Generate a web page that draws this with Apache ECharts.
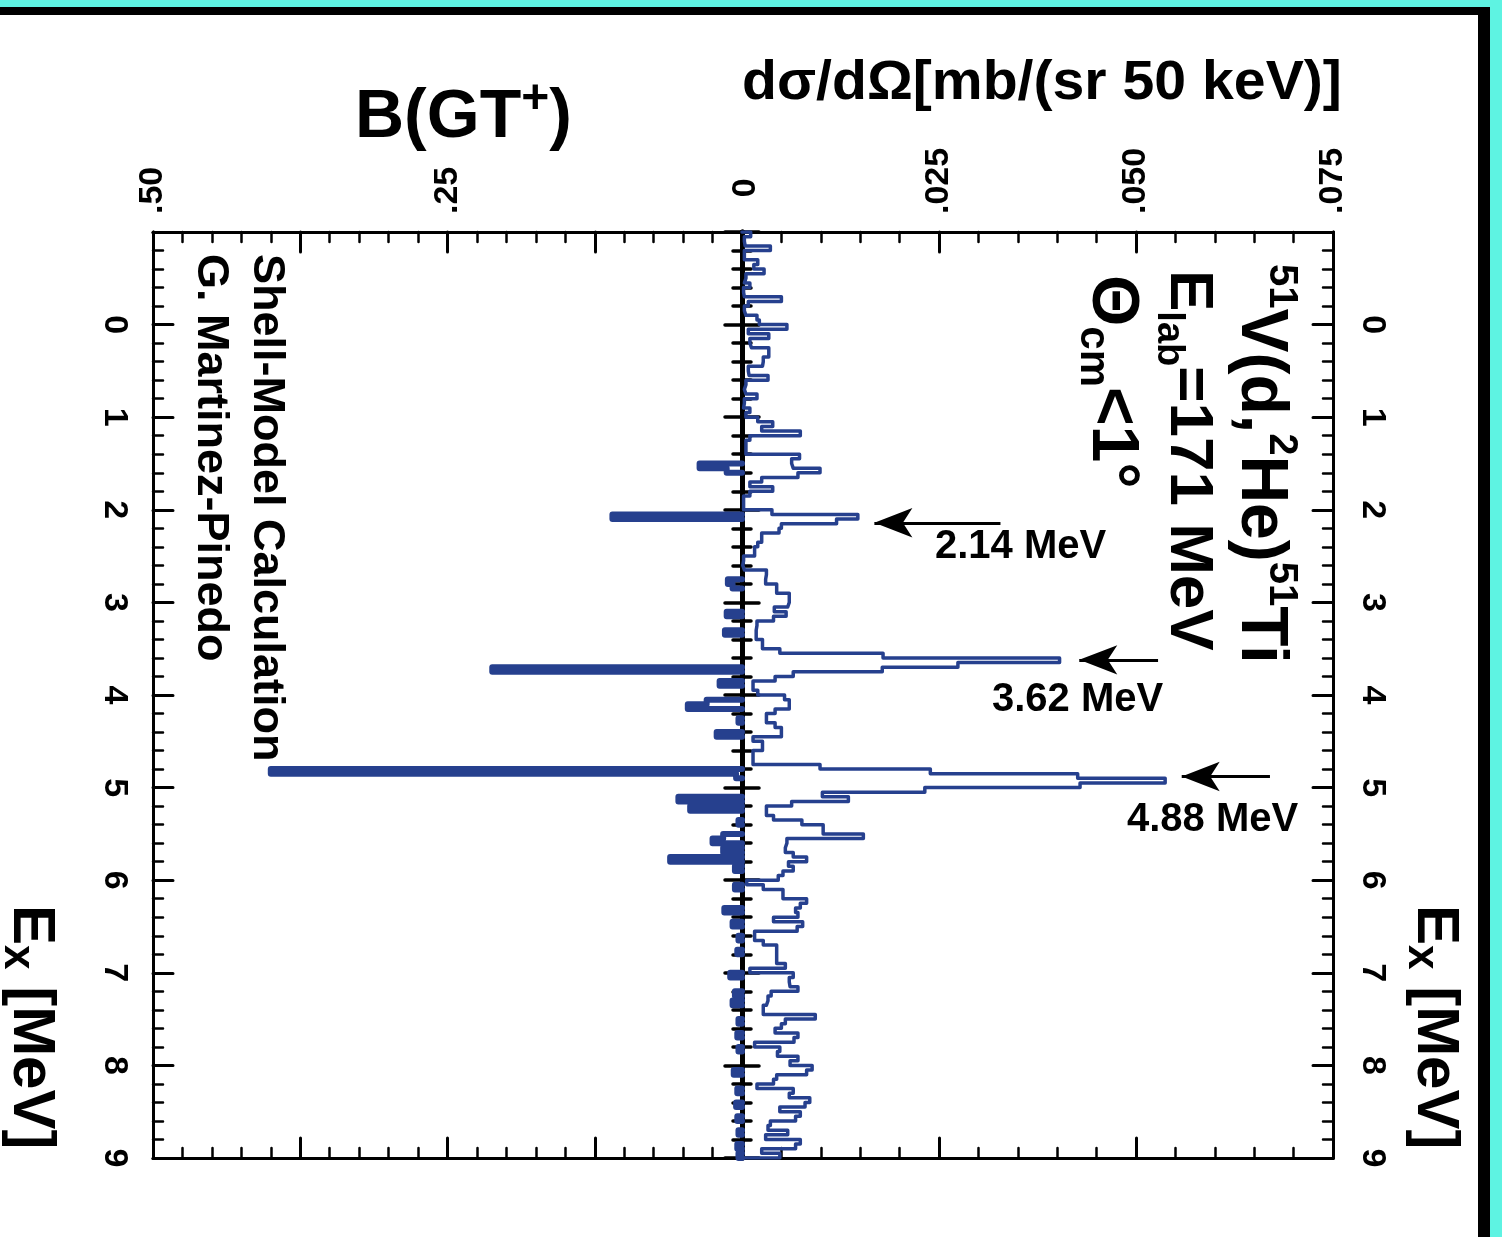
<!DOCTYPE html>
<html><head><meta charset="utf-8">
<script src="https://cdn.jsdelivr.net/npm/echarts@6/dist/echarts.min.js"></script>
<style>html,body{margin:0;padding:0;background:#fff}#c{width:1502px;height:1237px}</style>
</head><body><div id="c"></div>
<script>
// ---- data ----
const binStart = -1.0;   // MeV, lower edge of first 50 keV bin
const binWidth = 0.05;   // MeV
// dσ/dΩ [mb/(sr 50 keV)] per 50 keV bin, Ex from -1.0 to 9.0 MeV
const crossSection = [
 0.0011,0.0003,0.0004,0.0036,0.0003,0.0003,0.0020,0.0015,0.0028,0.0005,0.0003,0.0010,0.0002,0.0003,0.0050,0.0008,0.0003,0.0005,0.0019,0.0022,
 0.0057,0.0008,0.0034,0.0010,0.0012,0.0034,0.0034,0.0027,0.0026,0.0008,0.0009,0.0033,0.0005,0.0003,0.0005,0.0019,0.0003,0.0002,0.0010,0.0005,
 0.0020,0.0039,0.0025,0.0074,0.0010,0.0005,0.0005,0.0005,0.0073,0.0063,0.0065,0.0099,0.0071,0.0025,0.0010,0.0039,0.0010,0.0002,0.0002,0.0002,
 0.0038,0.0147,0.0120,0.0050,0.0047,0.0025,0.0025,0.0020,0.0016,0.0016,0.0002,0.0001,0.0003,0.0031,0.0030,0.0030,0.0044,0.0044,0.0060,0.0060,
 0.0058,0.0041,0.0056,0.0040,0.0019,0.0018,0.0018,0.0018,0.0026,0.0026,0.0048,0.0179,0.0403,0.0274,0.0178,0.0065,0.0042,0.0014,0.0014,0.0020,
 0.0054,0.0060,0.0060,0.0042,0.0031,0.0031,0.0042,0.0050,0.0050,0.0014,0.0026,0.0026,0.0014,0.0014,0.0014,0.0099,0.0239,0.0426,0.0537,0.0429,
 0.0232,0.0102,0.0135,0.0063,0.0031,0.0031,0.0040,0.0076,0.0103,0.0103,0.0154,0.0057,0.0055,0.0055,0.0065,0.0082,0.0059,0.0065,0.0052,0.0046,
 0.0006,0.0027,0.0052,0.0052,0.0082,0.0074,0.0068,0.0071,0.0040,0.0077,0.0070,0.0016,0.0016,0.0027,0.0044,0.0044,0.0044,0.0044,0.0055,0.0010,
 0.0065,0.0060,0.0061,0.0071,0.0037,0.0033,0.0031,0.0027,0.0027,0.0093,0.0055,0.0050,0.0042,0.0071,0.0066,0.0016,0.0048,0.0045,0.0071,0.0061,
 0.0089,0.0082,0.0044,0.0040,0.0019,0.0065,0.0060,0.0086,0.0080,0.0048,0.0074,0.0068,0.0036,0.0033,0.0058,0.0030,0.0074,0.0068,0.0025,0.0048
];
// Shell-model B(GT+) strengths: bin lower edge (MeV) and value
const bgtEnergies = [1.50,1.55,2.05,2.75,2.80,3.10,3.30,3.70,3.85,4.05,4.10,4.25,4.40,4.80,4.85,5.10,5.20,5.35,5.50,5.55,5.65,5.75,5.85,6.05,6.30,6.45,6.60,6.75,7.00,7.20,7.30,7.50,7.65,7.80,8.05,8.25,8.40,8.55,8.70,8.85,8.95];
const bgtValues   = [0.036,0.013,0.110,0.012,0.008,0.013,0.0145,0.212,0.019,0.030,0.046,0.003,0.0215,0.400,0.005,0.054,0.044,0.003,0.016,0.025,0.016,0.061,0.006,0.006,0.015,0.008,0.003,0.004,0.010,0.006,0.008,0.003,0.004,0.003,0.007,0.004,0.005,0.004,0.003,0.004,0.003];
// tick labels
const bgtTickLabels = [[0.25,'.25'],[0.5,'.50']];
const zeroLabel = '0';
const xsTickLabels  = [[0.025,'.025'],[0.05,'.050'],[0.075,'.075']];
const exTickLabels  = ['0','1','2','3','4','5','6','7','8','9'];
// peak annotations (Ex, arrow tip / tail in mb/sr)
const peakEx    = [2.14, 3.62, 4.88];
const peakNames = ['2.14 MeV','3.62 MeV','4.88 MeV'];
const arrowTip  = [0.0168, 0.0428, 0.0558];
const arrowTail = [0.0328, 0.0528, 0.0670];

// ---- build histogram paths ----
const nBins = crossSection.length;
const edges = [];
for (let i = 0; i <= nBins; i++) edges.push(+(binStart + i * binWidth).toFixed(4));
const xsData = [[0, edges[0]]];
crossSection.forEach((v, i) => { xsData.push([v, edges[i]], [v, edges[i + 1]]); });
xsData.push([0, edges[nBins]]);

const bgtBins = new Array(nBins).fill(0);
bgtEnergies.forEach((e, j) => { bgtBins[Math.round((e - binStart) / binWidth)] = bgtValues[j]; });
const bgtData = [];
let i = 0;
while (i < nBins) {
  if (bgtBins[i] > 0) {
    bgtData.push([0, edges[i]]);
    while (i < nBins && bgtBins[i] > 0) { bgtData.push([bgtBins[i], edges[i]], [bgtBins[i], edges[i + 1]]); i++; }
    bgtData.push([0, edges[i]]);
    bgtData.push(['-', '-']);
  } else i++;
}

// ---- styling ----
const FONT = '"Liberation Sans", Arial, Helvetica, sans-serif';
const BLUE = '#26408e';
function lookup(list, v) { for (const [t, s] of list) if (Math.abs(t - v) < 1e-9) return s; return ''; }
function frame(opts) {
  return Object.assign({
    type: 'value',
    axisLine: { show: true, onZero: false, lineStyle: { color: '#000', width: 3 } },
    axisTick: { show: true, inside: true, length: 20, lineStyle: { color: '#000', width: 3, cap: 'round' } },
    minorTick: { show: true, splitNumber: 5, length: 10, lineStyle: { color: '#000', width: 2.5, cap: 'round' } },
    splitLine: { show: false }, minorSplitLine: { show: false },
    axisLabel: { show: false }
  }, opts);
}
const tickLabel = (fmt, margin) => ({
  show: true, rotate: -90, margin: margin, fontSize: 34, fontWeight: 'bold', fontFamily: FONT, color: '#000', formatter: fmt
});
const exFmt = v => (v >= 0 && Number.isInteger(v) ? exTickLabels[v] : '');
const exAxis = { min: -1, max: 9, interval: 1, inverse: true };

const chart = echarts.init(document.getElementById('c'), null, { renderer: 'canvas' });

const rot = -Math.PI / 2;
const rtext = (x, y, text, rich, size, align) => ({
  type: 'text', x: x, y: y, rotation: rot, z: 100,
  style: { text: text, rich: rich, fill: '#000', font: 'bold ' + size + 'px ' + FONT,
           align: align || 'left', verticalAlign: 'middle', textAlign: align || 'left', textVerticalAlign: 'middle' }
});
const htext = (x, y, text, rich, size, sx) => ({
  type: 'text', x: x, y: y, z: 100, scaleX: sx || 1,
  style: { text: text, rich: rich, fill: '#000', font: 'bold ' + size + 'px ' + FONT,
           align: 'left', verticalAlign: 'middle', textAlign: 'left', textVerticalAlign: 'middle' }
});
const R = (size, va, extra) => Object.assign({ fontSize: size, fontWeight: 'bold', fontFamily: FONT, color: '#000', verticalAlign: va || 'middle', lineHeight: size }, extra || {});

const option = {
  animation: false,
  backgroundColor: '#fff',
  grid: [
    { left: 153, top: 232, width: 589, height: 926, containLabel: false, outerBoundsMode: 'none' },
    { left: 742, top: 232, width: 591, height: 926, containLabel: false, outerBoundsMode: 'none' }
  ],
  xAxis: [
    frame({ gridIndex: 0, min: 0, max: 0.5, interval: 0.125, inverse: true, position: 'top',
            axisLabel: tickLabel(v => lookup(bgtTickLabels, v), 18) }),
    frame({ gridIndex: 0, min: 0, max: 0.5, interval: 0.125, inverse: true, position: 'bottom' }),
    frame({ gridIndex: 1, min: 0, max: 0.075, interval: 0.025, position: 'top',
            axisLabel: tickLabel(v => lookup(xsTickLabels, v), 18) }),
    frame({ gridIndex: 1, min: 0, max: 0.075, interval: 0.025, position: 'bottom' })
  ],
  yAxis: [
    frame(Object.assign({ gridIndex: 0, position: 'left', axisLabel: tickLabel(exFmt, 22) }, exAxis)),
    frame(Object.assign({ gridIndex: 0, position: 'right',
            axisLine: { show: true, onZero: false, lineStyle: { color: '#000', width: 5 } },
            axisTick: { show: true, inside: true, length: 17, lineStyle: { color: '#000', width: 3.5, cap: 'round' } },
            minorTick: { show: true, splitNumber: 5, length: 9, lineStyle: { color: '#000', width: 3.5, cap: 'round' } } }, exAxis)),
    frame(Object.assign({ gridIndex: 1, position: 'left',
            axisLine: { show: true, onZero: false, lineStyle: { color: '#000', width: 5 } },
            axisTick: { show: true, inside: true, length: 17, lineStyle: { color: '#000', width: 3.5, cap: 'round' } },
            minorTick: { show: true, splitNumber: 5, length: 9, lineStyle: { color: '#000', width: 3.5, cap: 'round' } } }, exAxis)),
    frame(Object.assign({ gridIndex: 1, position: 'right', axisLabel: tickLabel(exFmt, 22) }, exAxis))
  ],
  series: [
    {
      type: 'line', xAxisIndex: 0, yAxisIndex: 0, data: bgtData, showSymbol: false, symbol: 'none',
      connectNulls: false, z: 5,
      lineStyle: { color: BLUE, width: 6, cap: 'round', join: 'round' }, itemStyle: { color: BLUE }
    },
    {
      type: 'line', xAxisIndex: 2, yAxisIndex: 2, data: xsData, showSymbol: false, symbol: 'none', z: 5,
      lineStyle: { color: BLUE, width: 3.5, cap: 'round', join: 'round' }, itemStyle: { color: BLUE },
      markLine: {
        silent: true, animation: false,
        symbol: ['none', 'arrow'], symbolSize: [22, 38],
        label: { show: false },
        lineStyle: { color: '#000', width: 3, type: 'solid' },
        itemStyle: { color: '#000' },
        emphasis: { disabled: true },
        data: peakEx.map((e, k) => [{ coord: [arrowTail[k], e] }, { coord: [arrowTip[k], e] }])
      }
    }
  ],
  graphic: [
    { type: 'rect', shape: { x: 0, y: 0, width: 1502, height: 7 }, style: { fill: '#5ef3e2' }, z: 50 },
    { type: 'rect', shape: { x: 0, y: 7, width: 1490, height: 8 }, style: { fill: '#000' }, z: 50 },
    { type: 'rect', shape: { x: 1478, y: 7, width: 12, height: 1230 }, style: { fill: '#000' }, z: 50 },
    { type: 'rect', shape: { x: 1490, y: 0, width: 12, height: 1237 }, style: { fill: '#5ef3e2' }, z: 50 },
    htext(742, 84, 'dσ/dΩ[mb/(sr 50 keV)]', null, 55, 1.04),
    htext(355, 114, '{m|B(GT}{s|+}{m|)}', { m: R(68, 'bottom', { lineHeight: 76 }), s: R(48, 'top') }, 68),
    htext(935, 547, peakNames[0], null, 40),
    htext(992, 700, peakNames[1], null, 40),
    htext(1127, 820, peakNames[2], null, 40),
    rtext(741, 188, zeroLabel, null, 34, 'center'),
    rtext(1264, 264, '{s|51}{m|V(d,}{s|2}{m|He)}{s|51}{m|Ti}', { m: R(66, 'bottom', { lineHeight: 74 }), s: R(40, 'top') }, 66),
    rtext(1184, 270, '{m|E}{b|lab}{m|=171 MeV}', { m: R(62, 'top', { lineHeight: 70 }), b: R(38, 'bottom') }, 62),
    rtext(1108, 275, '{m|Θ}{b|cm}{m|<1°}', { m: R(66, 'top', { lineHeight: 72 }), b: R(42, 'bottom') }, 66),
    rtext(266, 254, 'Shell-Model Calculation', null, 45),
    rtext(210, 254, 'G. Martinez-Pinedo', null, 45),
    rtext(1432, 905, '{m|E}{b|x}{m| [MeV]}', { m: R(60, 'top', { lineHeight: 66 }), b: R(44, 'bottom') }, 60),
    rtext(28, 905, '{m|E}{b|x}{m| [MeV]}', { m: R(60, 'top', { lineHeight: 66 }), b: R(44, 'bottom') }, 60)
  ]
};
chart.setOption(option);
</script>
</body></html>
